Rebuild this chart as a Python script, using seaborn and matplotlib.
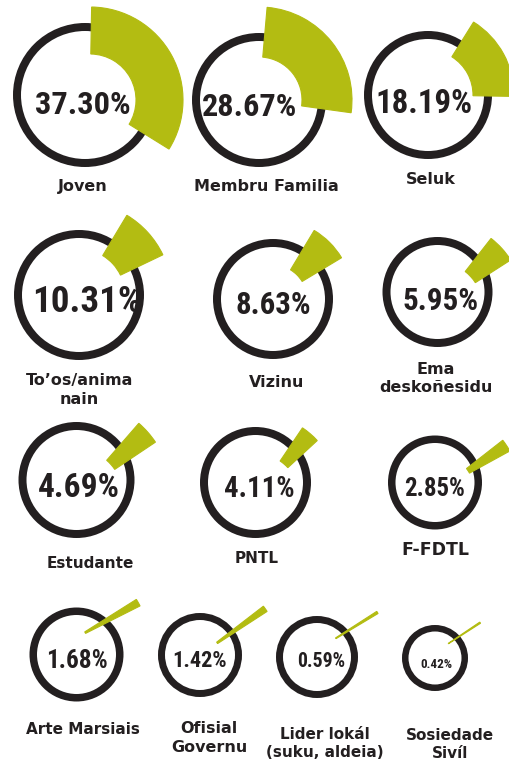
import matplotlib
matplotlib.use("Agg")
import matplotlib.pyplot as plt
from matplotlib.patches import Circle, Wedge
from matplotlib import font_manager as fm
from matplotlib.font_manager import FontProperties
import seaborn as sns
import pandas as pd

# ---------------- data ----------------
categories = ["Joven", "Membru Familia", "Seluk", "To’os/anima\nnain", "Vizinu",
              "Ema\ndeskoñesidu", "Estudante", "PNTL", "F-FDTL", "Arte Marsiais",
              "Ofisial\nGovernu", "Lider lokál\n(suku, aldeia)", "Sosiedade\nSivíl"]
percentages = [37.30, 28.67, 18.19, 10.31, 8.63, 5.95, 4.69, 4.11, 2.85, 1.68, 1.42, 0.59, 0.42]

# ---------------- layout (pixels, y downwards) ----------------
circle_x = [85, 259, 428, 79, 273, 437.5, 76.5, 255.5, 435, 76.5, 200, 317, 435]
circle_y = [95, 100, 95, 295, 299, 292, 480, 482.5, 482.5, 654.5, 655, 657, 658]
circle_r = [72, 67, 64, 65, 60, 55, 58, 55.5, 47, 47, 42, 41, 33]
ring_w = [8, 8, 8, 8, 8, 8, 8, 8, 7.5, 7.5, 7, 7, 6.5]
wedge_dx = [5, 0, 0, 0, 0, 0, 0, 0, 4.7, -7, 0, -3.3, -2.5]
wedge_dy = [5, 0, 0, 0, 0, 15, 15, 15, 7, -13, 0, -5, -4]
wedge_rin = [46, 43, 45, 46, 34, 45, 46, 44, 34, 18, 21, 26, 19]
wedge_rout = [93, 93, 86, 93, 80, 87, 95, 84, 80, 79, 80, 75, 57]
wedge_start = [1, 5, 32, 31, 31, 38, 41, 34, 52, 57.8, 52.4, 57.2, 56]  # deg clockwise from 12 o'clock
WEDGE_SCALE = 0.9

text_x = [83, 250, 424.5, 87, 273, 441, 79, 259, 434.5, 77, 200, 321, 436]
text_y = [102, 104, 101, 298.5, 302.5, 298.5, 485, 487, 487.5, 659, 659, 660, 663.5]
text_w = [84, 83, 85, 96, 66, 66, 72, 62, 53, 54, 48, 42, 28]
text_cap = [27, 28, 29, 27, 25, 23, 24, 24, 22, 22, 22, 20, 17]
TEXT_W_SLACK = 1.15

label_x = [83, 266, 431, 79.5, 277, 436, 90, 257, 435, 82.5, 209, 325, 450]
label_y = [185, 185, 178.5, 388.5, 381, 377, 562, 557, 548.5, 728, 736.5, 742, 743]
label_pt = [11.5, 11.5, 11.5, 11.5, 11.5, 11.5, 11, 11, 12.5, 11, 11.5, 11, 11]

GREEN = "#b3bc12"
DARK = "#231f20"
W, H = 509, 760

df = pd.DataFrame({"category": categories, "pct": percentages,
                   "cx": circle_x, "cy": circle_y, "r": circle_r, "rw": ring_w,
                   "wdx": wedge_dx, "wdy": wedge_dy, "rin": wedge_rin, "rout": wedge_rout,
                   "start": wedge_start, "tx": text_x, "ty": text_y, "tw": text_w,
                   "tcap": text_cap, "lx": label_x, "ly": label_y, "lpt": label_pt})


def pick_condensed_font():
    prefs = ["roboto condensed", "liberation sans narrow", "dejavu sans condensed",
             "open sans condensed", "noto sans condensed", "arial narrow"]
    best = None
    best_score = -1
    for f in fm.fontManager.ttflist:
        name = f.name.lower()
        st = str(f.stretch).lower()
        w = f.weight
        try:
            w = int(w)
        except Exception:
            w = 700 if "bold" in str(w).lower() else 400
        cond = ("condensed" in st or "narrow" in st or "condensed" in name or "narrow" in name
                or "condensed" in f.fname.lower() or "narrow" in f.fname.lower())
        if not cond:
            continue
        if "italic" in str(f.style).lower() or "oblique" in str(f.style).lower():
            continue
        if "mono" in name or ("serif" in name and "sans" not in name):
            continue
        score = 1
        if w >= 700:
            score += 10
        for i, p in enumerate(prefs):
            if p in name or p.replace(" ", "") in f.fname.lower().replace("-", "").replace("_", ""):
                score += 20 - i
        if score > best_score:
            best_score = score
            best = f
    if best is None:
        return FontProperties(family="DejaVu Sans", weight="bold")
    return FontProperties(fname=best.fname)


pct_font = pick_condensed_font()

sns.set_theme(style="white")
plt.rcParams["font.family"] = ["DejaVu Sans"]

fig = plt.figure(figsize=(W / 100, H / 100), dpi=100)
fig.patch.set_facecolor("white")
ax = fig.add_axes([0, 0, 1, 1])
ax.set_xlim(0, W)
ax.set_ylim(H, 0)
ax.set_aspect("equal")
ax.axis("off")

PX2PT = 72 / 100
renderer = fig.canvas.get_renderer()

for _, row in df.iterrows():
    # ring
    ax.add_patch(Circle((row.cx, row.cy), row.r - row.rw / 2, fill=False,
                        edgecolor=DARK, linewidth=row.rw * PX2PT, zorder=2))
    # wedge: angle measured clockwise from top on screen (y axis inverted)
    span = row.pct / 100 * 360 * WEDGE_SCALE
    t1 = row.start - 90
    t2 = row.start + span - 90
    ax.add_patch(Wedge((row.cx + row.wdx, row.cy + row.wdy), row.rout, t1, t2,
                       width=row.rout - row.rin, facecolor=GREEN, edgecolor=GREEN,
                       linewidth=0.8, zorder=3))
    # percentage text, sized to fit the measured width / cap height
    label = f"{row.pct:.2f}%"
    fp = pct_font.copy()
    fp.set_size(10)
    probe = ax.text(0, 0, label, fontproperties=fp)
    wpx = probe.get_window_extent(renderer).width
    probe.remove()
    size_w = 10 * row.tw * TEXT_W_SLACK / wpx
    size_c = row.tcap / 0.72 * PX2PT
    size = min(size_w, size_c)
    fp.set_size(size)
    cap_px = size / PX2PT * 0.72
    ax.text(row.tx, row.ty + cap_px / 2, label, ha="center", va="baseline",
            fontproperties=fp, color=DARK, zorder=4)
    # category label
    ax.text(row.lx, row.ly + 1.5, row.category, ha="center", va="center",
            multialignment="center", fontsize=row.lpt, fontweight="bold",
            color=DARK, linespacing=1.3, zorder=4)

fig.savefig("out.png", dpi=100, facecolor="white")
